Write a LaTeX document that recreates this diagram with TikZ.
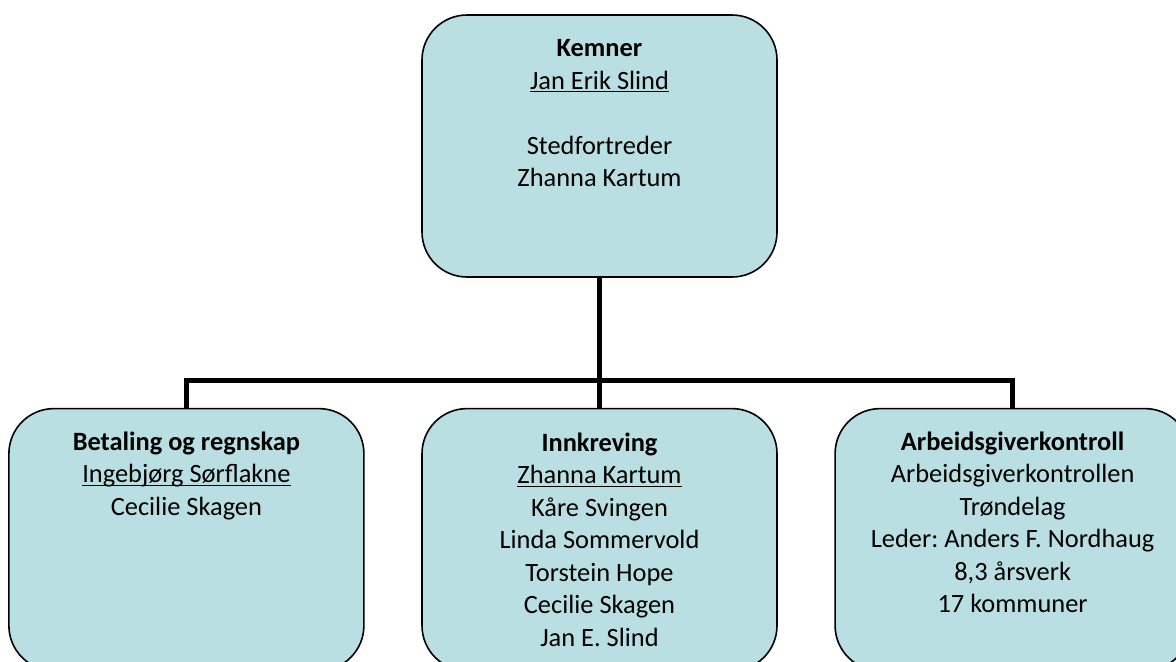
\documentclass[tikz,border=0pt]{standalone}
\usepackage{fontspec}
\setmainfont{Carlito}
\usetikzlibrary{positioning}
\definecolor{boxfill}{HTML}{B9DFE3}
\newcommand\undl[1]{\setbox0\hbox{#1}\rlap{\rule[-1.6pt]{\wd0}{0.65pt}}\box0}
\frenchspacing

\begin{document}
\begin{tikzpicture}[node distance=65pt,
	unit/.style={rectangle,draw,rounded corners=22.5pt,line width=0.8pt,
		fill=boxfill,minimum width=177.5pt,minimum height=131pt,inner sep=0pt},
	txt/.style={align=center,inner sep=0pt,font=\fontsize{13.2}{16.25}\selectfont},
	conn/.style={line width=2.5pt}]
	\useasboundingbox (0,0) rectangle (588pt,330.5pt);
	\node[unit](kemner) at (299.75pt,257.5pt){};
	\node[unit](innkreving)[below=of kemner]{};
	\node[unit](betaling)[left=28.25pt of innkreving]{};
	\node[unit](arbeid)[right=28.25pt of innkreving]{};
	\coordinate[above=13.5pt of innkreving.north](fork);
	
	\draw[conn] (kemner.south) -- (innkreving.north);
	\draw[conn] (betaling.north) |- (fork) -| (arbeid.north);
	
	\node[txt](kemnertxt)[below=12.5pt of kemner.north]{\textbf{Kemner}\\
		\undl{Jan Erik Slind}\\[16.25pt]
		Stedfortreder\\
		Zhanna Kartum};
	\node[txt](betalingtxt)[below=11.8pt of betaling.north]{\textbf{Betaling og regnskap}\\
		\undl{Ingebjørg Sørflakne}\\
		Cecilie Skagen};
	\node[txt](innkrevingtxt)[below=12.3pt of innkreving.north]{\textbf{Innkreving}\\
		\undl{Zhanna Kartum}\\
		Kåre Svingen\\
		Linda Sommervold\\
		Torstein Hope\\
		Cecilie Skagen\\
		Jan E. Slind};
	\node[txt](arbeidtxt)[below=11.8pt of arbeid.north]{\textbf{Arbeidsgiverkontroll}\\
		Arbeidsgiverkontrollen\\
		Trøndelag\\
		Leder: Anders F. Nordhaug\\
		8,3 årsverk\\
		17 kommuner};
\end{tikzpicture}
\end{document}
